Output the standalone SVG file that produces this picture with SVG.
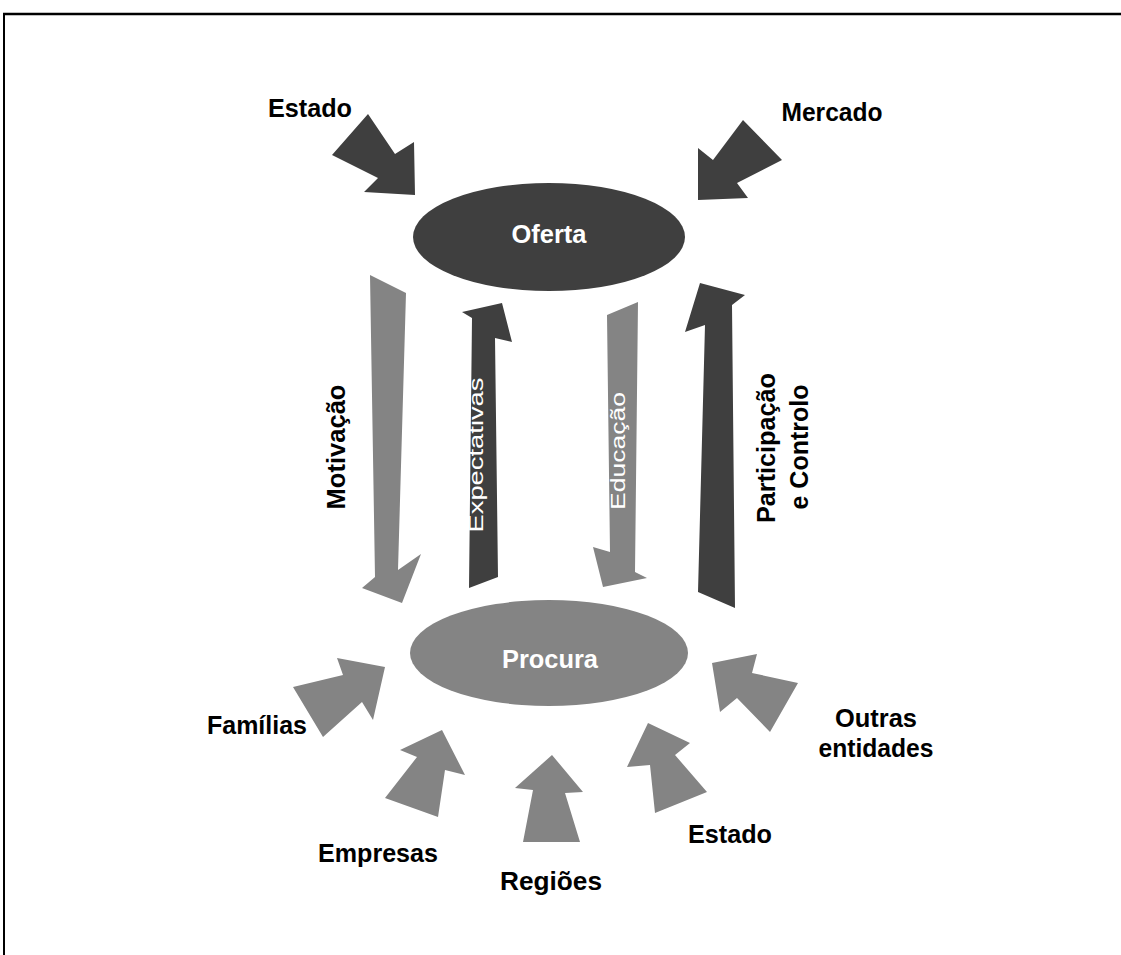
<svg xmlns="http://www.w3.org/2000/svg" width="1121" height="955" viewBox="0 0 1121 955">
<style>
.dark{fill:#3f3f3f}
.light{fill:#848484}
.lbl{font-family:"Liberation Sans",Arial,sans-serif;font-weight:bold;font-size:25px;fill:#000;text-anchor:middle}
.in{font-family:"Liberation Sans",Arial,sans-serif;font-weight:bold;font-size:25px;fill:#fff;text-anchor:middle}
.inr{font-family:"Liberation Sans",Arial,sans-serif;font-size:21px;fill:#fff;text-anchor:middle}
</style>
<rect width="1121" height="955" fill="#fff"/>
<g id="frame">
<line x1="3" y1="14" x2="1121" y2="14" stroke="#000" stroke-width="2.5"/>
<line x1="4" y1="13" x2="4" y2="955" stroke="#000" stroke-width="2"/>
</g>
<g id="connectors">
<polygon id="arrow-estado-top" class="dark" points="368,114 395,154 414,142 415,195 364,192 378,178 332,155"/>
<polygon id="arrow-mercado" class="dark" points="698,148 713,160 743,120 782,160 737,183 748,198 698,200"/>
<polygon id="arrow-motivacao" class="light" points="370,275 406,293 398,570 421,554 402,603 362,588 375,577"/>
<polygon id="arrow-expectativas" class="dark" points="502,303 512,342 495,338 498,577 469,588 472,318 462,312"/>
<polygon id="arrow-educacao" class="light" points="607,315 638,302 635,572 647,578 603,587 593,547 610,552"/>
<polygon id="arrow-participacao" class="dark" points="700,283 745,295 732,305 735,608 698,592 705,325 685,332"/>
<polygon id="arrow-familias" class="light" points="337,658 385,667 373,720 362,702 323,737 293,687 343,675"/>
<polygon id="arrow-empresas" class="light" points="442,730 465,775 445,770 438,817 385,798 417,757 400,750"/>
<polygon id="arrow-regioes" class="light" points="552,755 583,792 565,793 580,842 523,842 533,790 515,788"/>
<polygon id="arrow-estado-bottom" class="light" points="648,723 690,743 675,755 707,792 655,813 650,765 627,767"/>
<polygon id="arrow-outras" class="light" points="712,663 757,654 752,673 798,683 770,732 737,698 720,712"/>
<text class="inr" transform="translate(483,455) rotate(-90)" textLength="155" lengthAdjust="spacingAndGlyphs">Expectativas</text>
<text class="inr" transform="translate(625,451) rotate(-90)" textLength="118" lengthAdjust="spacingAndGlyphs">Educação</text>
<text class="lbl" transform="translate(345,447) rotate(-90)" textLength="125" lengthAdjust="spacingAndGlyphs">Motivação</text>
<text class="lbl" transform="translate(775,448) rotate(-90)" textLength="150" lengthAdjust="spacingAndGlyphs">Participação</text>
<text class="lbl" transform="translate(808,447) rotate(-90)" textLength="125" lengthAdjust="spacingAndGlyphs">e Controlo</text>
</g>
<g id="oferta">
<ellipse cx="549" cy="237" rx="136" ry="54" class="dark"/>
<text class="in" x="549" y="243" textLength="75" lengthAdjust="spacingAndGlyphs">Oferta</text>
</g>
<g id="procura">
<ellipse cx="549" cy="653" rx="139" ry="53" class="light"/>
<text class="in" x="550" y="668" textLength="96" lengthAdjust="spacingAndGlyphs">Procura</text>
</g>
<g id="estado-top"><text class="lbl" x="310" y="117" textLength="84" lengthAdjust="spacingAndGlyphs">Estado</text></g>
<g id="mercado"><text class="lbl" x="832" y="121" textLength="101" lengthAdjust="spacingAndGlyphs">Mercado</text></g>
<g id="familias"><text class="lbl" x="257" y="734" textLength="100" lengthAdjust="spacingAndGlyphs">Famílias</text></g>
<g id="empresas"><text class="lbl" x="378" y="862" textLength="120" lengthAdjust="spacingAndGlyphs">Empresas</text></g>
<g id="regioes"><text class="lbl" x="551" y="890" textLength="102" lengthAdjust="spacingAndGlyphs">Regiões</text></g>
<g id="estado-bottom"><text class="lbl" x="730" y="843" textLength="84" lengthAdjust="spacingAndGlyphs">Estado</text></g>
<g id="outras"><text class="lbl" x="876" y="727" textLength="82" lengthAdjust="spacingAndGlyphs">Outras</text><text class="lbl" x="876" y="757" textLength="115" lengthAdjust="spacingAndGlyphs">entidades</text></g>
</svg>
